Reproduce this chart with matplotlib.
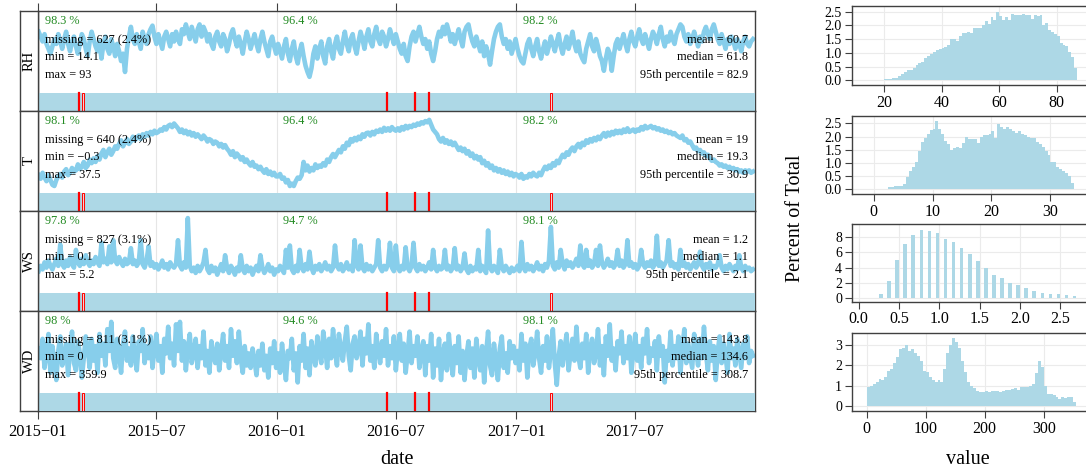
import numpy as np
import pandas as pd
import matplotlib
matplotlib.use("Agg")
import matplotlib.pyplot as plt
import matplotlib.dates as mdates
from matplotlib.patches import Rectangle

plt.rcParams['font.family'] = ['Liberation Serif', 'DejaVu Serif']

# ---------------- data ----------------
variables = ['RH', 'T', 'WS', 'WD']

# 3-day averaged series (2015-01-01 .. 2017-12-31)
rh_values = [
    # 2015
    80, 76, 72, 78, 70, 66, 62, 68, 74, 70,
    78, 72, 66, 74, 80, 70, 64, 72, 76, 68,
    62, 70, 78, 74, 66, 60, 72, 80, 74, 68,
    64, 72, 58, 70, 76, 66, 62, 74, 68, 60,
    70, 64, 56, 62, 47, 66, 76, 84, 74, 70,
    78, 72, 66, 80, 74, 70, 78, 82, 85, 76,
    70, 78, 72, 66, 76, 80, 74, 68, 78, 72,
    80, 74, 70, 82, 78, 86, 80, 74, 84, 78,
    72, 82, 86, 76, 84, 80, 72, 78, 70, 66,
    76, 80, 72, 68, 78, 74, 64, 70, 78, 82,
    74, 68, 76, 70, 62, 72, 80, 74, 66, 72,
    78, 70, 64, 74, 80, 72, 66, 60, 72, 76, 68, 62,
    # 2016
    70, 64, 58, 68, 74, 62, 56, 66, 72, 60,
    54, 64, 70, 60, 52, 47, 43, 50, 62, 68,
    58, 66, 72, 60, 54, 68, 74, 64, 58, 70,
    76, 66, 62, 72, 80, 70, 64, 74, 78, 68,
    62, 72, 80, 74, 66, 76, 82, 72, 68, 78,
    84, 74, 70, 80, 76, 68, 74, 82, 76, 70,
    78, 72, 66, 62, 70, 60, 56, 68, 76, 80,
    72, 78, 84, 76, 70, 74, 66, 72, 62, 56,
    64, 74, 80, 76, 84, 78, 86, 80, 72, 78,
    70, 76, 82, 74, 68, 80, 84, 86, 78, 72,
    68, 76, 70, 64, 72, 60, 68, 62, 53, 64,
    74, 80, 84, 86, 76, 70, 74, 66, 72, 62, 68, 74,
    # 2017
    66, 60, 56, 54, 62, 70, 74, 66, 60, 68,
    74, 64, 58, 66, 72, 62, 68, 76, 70, 64,
    72, 78, 68, 62, 70, 76, 66, 72, 80, 70,
    64, 72, 62, 58, 55, 66, 72, 78, 68, 64,
    74, 68, 60, 56, 48, 58, 66, 62, 48, 60,
    70, 74, 66, 72, 78, 70, 64, 74, 80, 72,
    68, 76, 82, 74, 70, 78, 72, 66, 74, 80,
    76, 70, 78, 84, 74, 68, 76, 72, 80, 74,
    70, 78, 82, 86, 84, 76, 72, 78, 70, 74,
    80, 74, 68, 76, 72, 80, 84, 78, 74, 82,
    86, 80, 74, 70, 78, 72, 66, 74, 70, 76,
    72, 66, 74, 70, 64, 72, 76, 70, 68, 72, 74]

t_values = [
    # 2015
    10, 8.5, 11, 9, 7.5, 10, 8, 6, 5.5, 8, 9.5,
    10.5, 9, 11.5, 12.5, 10, 11, 13, 11.5, 12,
    14.5, 12.5, 13.5, 15.5, 13, 14, 16.5, 15, 17, 15.5,
    18, 16.5, 19, 20.5, 17.5, 19.5, 21, 18.5, 20, 22,
    21, 23, 24.5, 22, 23.5, 25, 23, 24, 26, 24.5, 25.5,
    26.5, 25, 27, 26, 27.5, 26.5, 28, 27, 28.5, 27.5,
    28, 29, 28.5, 30, 29, 30.5, 31, 30, 31.5, 30.5,
    29.5, 28, 29, 27.5, 28.5, 27, 28, 26.5, 27.5, 26, 27,
    26, 25, 26.5, 25.5, 24, 25, 24.5, 23, 24,
    23.5, 22, 23, 21.5, 22.5, 21, 20, 18.5, 20, 17.5, 19,
    18, 16.5, 17.5, 15.5, 16.5, 15, 14, 15.5, 13.5, 14,
    12.5, 13.5, 12, 11, 12.5, 10.5, 11.5, 10, 11, 9.5,
    # 2016
    9.5, 10.5, 8.5, 9, 7, 8, 5.5, 6.5, 5.5, 7.5, 9,
    8.5, 10, 15.5, 12, 14, 11.5, 13, 12, 14.5,
    13, 14, 13.5, 15, 14, 16.5, 15.5, 17.5, 18.8, 17.5,
    19, 20.5, 19.5, 22, 21, 23.5, 22.5, 25, 24, 25.5,
    24.5, 26, 25, 27, 26, 27.5, 27.7, 26.5, 28, 27, 28.5,
    28, 29, 28, 29.7, 28.5, 29.5, 28.5, 30, 29, 28.5,
    29.5, 28.5, 30, 29, 30.5, 29.5, 30.5, 30, 31, 30.5,
    31.5, 31, 32, 31.5, 32.5, 32, 33, 31, 29, 28, 27,
    25, 24, 25.5, 23.5, 24.5, 23, 24, 22.5, 23.5,
    22, 20.5, 21.5, 20, 21, 19, 20, 18, 19, 17, 18,
    16.5, 17.5, 15, 16, 14, 15, 13, 14, 12, 13,
    11.5, 12.5, 11, 12, 10.5, 11.5, 10, 11, 9.5, 10.5,
    # 2017
    10, 9, 10.5, 8.5, 9.5, 9, 10.5, 9.5, 11, 10, 9.5,
    11, 10, 12, 13.5, 12.5, 14, 13, 15, 14,
    16, 15, 17, 18.5, 17.5, 19.5, 18.5, 20.5, 21.5, 20,
    22, 23, 21.5, 23.5, 22.5, 24.5, 23.5, 25, 24, 25.5,
    24.5, 26, 25, 26.5, 27.5, 26, 27.7, 26.5, 28, 27, 28.5,
    27.5, 28.5, 27.5, 29, 28, 29.5, 28, 28.5, 29, 28,
    29, 28.5, 30, 29, 30.5, 29.5, 30, 30.5, 29.5, 30,
    29, 29.5, 28.5, 29, 28, 28.5, 27.5, 28, 27, 27.5, 26.5,
    26, 25.5, 26.5, 24.5, 25, 23.5, 24, 22.5, 21,
    21.5, 20, 20.5, 19, 19.5, 18, 18.5, 17, 16, 16.5, 15.5,
    15, 14, 14.5, 13.5, 14, 13, 13.5, 12.5, 13, 12,
    12.5, 11.5, 12, 11, 12, 11.5, 12, 11, 11.5]

ws_values = [
    # 2015
    1.0, 1.3, 1.1, 1.5, 1.2, 1.6, 1.3, 1.1, 1.4, 1.7,
    1.3, 2.5, 1.4, 1.2, 1.6, 1.3, 1.8, 1.4, 1.2, 2.2,
    1.5, 1.3, 1.7, 1.4, 1.9, 1.5, 1.3, 1.6, 1.4, 1.8,
    1.5, 1.3, 2.6, 1.5, 1.7, 1.4, 2.4, 1.5, 2.75, 1.6,
    1.4, 1.8, 1.5, 1.3, 1.7, 1.4, 1.5, 2.3, 1.4, 1.6,
    1.3, 1.5, 2.75, 1.4, 1.2, 1.6, 2.4, 1.3, 1.5, 1.2,
    1.4, 1.1, 1.3, 1.6, 1.2, 1.4, 1.1, 1.5, 1.3, 1.2,
    1.4, 2.75, 1.3, 1.1, 1.5, 1.2, 4.0, 1.3, 1.0, 1.2,
    0.9, 1.3, 1.0, 1.2, 1.5, 2.2, 1.1, 0.9, 1.3, 1.0,
    1.2, 0.8, 1.1, 1.4, 1.0, 1.9, 1.2, 0.9, 1.3, 1.1,
    0.8, 1.2, 1.0, 1.9, 1.1, 0.9, 1.3, 1.0, 1.2, 0.8,
    1.1, 1.3, 1.0, 1.9, 1.2, 0.9, 1.1, 1.4, 1.0, 1.2, 0.8, 1.1,
    # 2016
    1.0, 1.3, 1.1, 0.9, 2.2, 1.2, 2.45, 1.1, 0.9, 1.3,
    1.0, 2.2, 1.2, 1.0, 1.4, 1.1, 2.1, 1.2, 0.9, 1.3,
    1.1, 1.4, 1.0, 1.2, 1.5, 1.1, 1.3, 1.0, 1.2, 2.45,
    1.3, 1.1, 1.4, 1.0, 1.2, 1.5, 1.1, 1.3, 1.0, 2.75,
    1.3, 1.1, 2.45, 1.2, 1.0, 1.4, 1.1, 1.3, 1.0, 1.2,
    1.4, 2.75, 1.2, 1.0, 1.3, 1.1, 1.4, 2.6, 1.2, 1.0,
    2.45, 1.2, 1.0, 1.3, 1.1, 2.35, 1.2, 1.0, 1.3, 2.6,
    1.2, 1.0, 1.4, 1.1, 1.3, 1.0, 1.2, 1.5, 1.1, 2.2,
    1.2, 1.0, 1.3, 1.1, 1.2, 2.2, 1.1, 1.3, 1.0, 1.2,
    2.3, 1.1, 1.3, 1.0, 1.2, 2.0, 1.1, 0.9, 1.3, 1.0,
    1.2, 1.1, 2.2, 1.0, 1.3, 1.1, 0.9, 3.3, 1.2, 1.0,
    1.3, 1.1, 0.9, 2.2, 1.2, 1.0, 1.3, 1.1, 0.9, 1.2, 1.0, 1.1,
    # 2017
    1.3, 1.0, 2.65, 1.2, 1.0, 1.4, 1.1, 1.3, 1.0, 1.2,
    1.5, 1.1, 1.3, 1.0, 1.4, 1.2, 1.6, 3.5, 1.3, 1.1,
    1.5, 1.2, 2.2, 1.4, 1.1, 1.6, 1.3, 1.5, 1.2, 1.4,
    1.7, 1.3, 2.45, 1.4, 1.2, 2.2, 1.3, 1.6, 1.2, 1.4,
    2.2, 1.3, 2.45, 1.5, 1.2, 1.4, 1.7, 1.3, 1.5, 1.2,
    1.4, 2.2, 1.3, 1.6, 1.2, 1.4, 2.75, 1.3, 1.5, 1.2,
    1.4, 1.1, 1.3, 2.2, 1.4, 1.2, 1.5, 1.3, 1.6, 1.2,
    1.4, 3.0, 1.3, 1.5, 1.2, 1.4, 1.6, 2.75, 1.3, 1.5,
    1.2, 1.4, 1.1, 2.2, 1.3, 1.5, 1.2, 1.4, 1.1, 1.3,
    1.5, 1.2, 1.4, 2.1, 1.3, 1.1, 1.4, 1.2, 1.5, 1.1,
    1.3, 1.2, 1.4, 1.9, 1.2, 1.0, 1.3, 1.1, 1.4, 1.2,
    1.0, 1.3, 1.1, 1.9, 1.2, 1.0, 1.3, 1.1, 1.2, 1.0, 1.1]

wd_values = [
    # 2015
    190, 150, 230, 110, 170, 250, 90, 200, 140, 60,
    180, 240, 120, 160, 210, 80, 190, 260, 130, 100,
    220, 170, 70, 150, 240, 190, 110, 230, 140, 200,
    90, 250, 160, 210, 120, 270, 180, 300, 150, 110,
    230, 170, 90, 210, 260, 140, 190, 120, 240, 160,
    100, 220, 180, 270, 130, 200, 150, 240, 110, 190,
    250, 140, 200, 90, 230, 170, 280, 150, 210, 120,
    290, 180, 300, 140, 220, 100, 190, 250, 130, 170,
    230, 110, 200, 150, 260, 120, 180, 90, 220, 160,
    130, 210, 100, 180, 250, 140, 200, 110, 270, 160,
    220, 130, 260, 150, 90, 200, 120, 170, 110, 190,
    140, 80, 180, 120, 210, 100, 160, 70, 190, 130, 220, 110,
    # 2016
    170, 90, 210, 130, 60, 180, 150, 230, 100, 170,
    50, 200, 140, 250, 110, 190, 80, 220, 160, 120,
    240, 170, 130, 260, 200, 110, 230, 150, 270, 180,
    120, 250, 190, 140, 220, 280, 160, 100, 210, 240,
    150, 190, 260, 120, 230, 170, 290, 140, 200, 110,
    250, 180, 130, 220, 160, 270, 120, 200, 150, 240,
    100, 190, 250, 140, 210, 90, 170, 260, 130, 200,
    160, 240, 110, 180, 220, 80, 200, 140, 250, 70,
    190, 120, 230, 60, 170, 210, 100, 250, 150, 80,
    200, 130, 240, 90, 180, 60, 160, 220, 110, 190,
    70, 230, 150, 100, 200, 50, 170, 260, 120, 80,
    210, 140, 60, 190, 240, 110, 170, 90, 220, 150, 200, 130,
    # 2017
    180, 100, 250, 140, 210, 70, 190, 230, 120, 170,
    260, 150, 90, 200, 140, 240, 110, 180, 270, 130,
    40, 160, 220, 120, 190, 250, 100, 170, 230, 140,
    280, 160, 110, 210, 150, 250, 90, 190, 230, 130,
    170, 270, 120, 200, 80, 240, 160, 290, 140, 190,
    100, 220, 170, 260, 130, 200, 150, 240, 90, 180,
    250, 140, 200, 110, 230, 170, 270, 130, 190, 160,
    220, 100, 240, 160, 200, 50, 180, 140, 260, 120,
    200, 150, 240, 90, 190, 270, 130, 210, 160, 110,
    250, 180, 120, 230, 150, 280, 170, 100, 220, 140,
    200, 60, 180, 240, 130, 210, 160, 90, 250, 150,
    190, 120, 230, 170, 110, 210, 150, 240, 130, 180, 160]

series = [rh_values, t_values, ws_values, wd_values]

# missing-data markers
missing_days = ['2015-03-04', '2016-06-18', '2016-07-30', '2016-08-20']
missing_periods = [('2015-03-09', '2015-03-12'), ('2017-02-22', '2017-02-25')]

# summary statistics shown in the panels
missing_txt = ['627 (2.4%)', '640 (2.4%)', '827 (3.1%)', '811 (3.1%)']
min_txt = ['14.1', '\u22120.3', '0.1', '0']
max_txt = ['93', '37.5', '5.2', '359.9']
mean_txt = ['60.7', '19', '1.2', '143.8']
median_txt = ['61.8', '19.3', '1.1', '134.6']
p95_txt = ['82.9', '30.9', '2.1', '308.7']
year_pct = [['98.3', '96.4', '98.2'],
            ['98.1', '96.4', '98.2'],
            ['97.8', '94.7', '98.1'],
            ['98', '94.6', '98.1']]
years = ['2015-01-01', '2016-01-01', '2017-01-01']

# histogram (percent of total)
rh_hist = [0.01, 0.01, 0.02, 0.02, 0.02, 0.03, 0.04, 0.05, 0.05, 0.07, 0.1, 0.15,
           0.22, 0.3, 0.36, 0.38, 0.45, 0.55, 0.62, 0.68, 0.82, 0.88, 0.95, 1.05,
           1.1, 1.15, 1.17, 1.22, 1.3, 1.5, 1.52, 1.45, 1.6, 1.72, 1.74, 1.78,
           1.72, 1.9, 1.92, 1.9, 2.0, 2.15, 2.05, 2.3, 2.2, 2.5, 2.35, 2.2,
           2.3, 2.2, 2.43, 2.38, 2.4, 2.38, 2.42, 2.38, 2.4, 2.22, 2.38, 2.35,
           2.38, 2.0, 2.1, 1.82, 1.75, 1.68, 1.6, 1.35, 1.3, 1.25, 1.05, 0.85, 0.45]
t_hist = [0.01, 0.01, 0.01, 0.01, 0.02, 0.02, 0.08, 0.1, 0.12, 0.13, 0.13, 0.2,
          0.45, 0.7, 0.85, 1.05, 1.45, 1.8, 1.95, 2.1, 2.25, 2.3, 2.6, 2.3,
          2.1, 1.85, 1.7, 1.5, 1.55, 1.6, 1.55, 1.75, 2.0, 1.9, 1.9, 1.9,
          1.75, 2.0, 2.05, 2.05, 2.1, 2.2, 1.95, 2.48, 2.38, 2.3, 2.38, 2.3,
          2.22, 2.15, 2.2, 2.1, 2.05, 2.0, 1.95, 1.95, 1.8, 1.7, 1.6, 1.45,
          1.3, 1.05, 1.05, 0.85, 0.75, 0.7, 0.62, 0.5, 0.25]
ws_levels = [0.3, 0.4, 0.5, 0.6, 0.7, 0.8, 0.9, 1.0, 1.1, 1.2, 1.3, 1.4, 1.5,
             1.6, 1.7, 1.8, 1.9, 2.0, 2.1, 2.2, 2.3, 2.4, 2.5, 2.6, 2.7]
ws_hist = [0.5, 2.3, 5.0, 7.1, 8.2, 8.9, 8.7, 8.5, 7.7, 7.25, 6.5, 5.7, 4.9,
           3.9, 3.0, 2.7, 2.0, 1.7, 1.3, 1.0, 0.75, 0.6, 0.55, 0.45, 0.3]
wd_hist = [0.95, 1.0, 1.1, 1.2, 1.3, 1.25, 1.4, 1.7, 1.8, 2.1, 2.4, 2.8,
           2.85, 3.0, 2.7, 2.8, 2.6, 2.45, 2.2, 1.7, 1.65, 1.4, 1.25, 1.2,
           1.25, 1.2, 1.8, 2.6, 3.0, 3.35, 3.15, 2.85, 2.2, 1.65, 1.2, 1.0,
           0.9, 0.75, 0.7, 0.7, 0.72, 0.7, 0.72, 0.72, 0.72, 0.7, 0.75, 0.8,
           0.8, 0.85, 0.9, 0.8, 0.95, 0.95, 0.95, 1.0, 1.1, 1.6, 2.2, 1.9,
           1.0, 0.6, 0.6, 0.55, 0.45, 0.35, 0.45, 0.4, 0.45, 0.45, 0.2]

# ---------------- layout ----------------
W, H = 1086, 472
fig = plt.figure(figsize=(W / 100, H / 100), dpi=100)


def rect(l, t, r, b):
    return [l / W, 1 - b / H, (r - l) / W, (b - t) / H]


line_col = '#87CEEB'
bar_col = '#ADD8E6'
spine_col = '#404040'
green = '#228B22'
grid_col = '#E6E6E6'

ylims = [(15, 97), (-4.9, 36.7), (-1.25, 4.4), (-68, 345)]
x0, x1 = pd.Timestamp('2015-01-01'), pd.Timestamp('2018-01-01')
tick_dates = pd.date_range('2015-01-01', '2017-07-01', freq='6MS')

txt_fs = 8.8
bar_frac = 0.18

for k, name in enumerate(variables):
    top = 11 + 100 * k
    ax = fig.add_axes(rect(38, top, 755, top + 100))
    ax.set_xlim(x0, x1)
    ax.set_ylim(*ylims[k])
    for td in tick_dates:
        ax.axvline(td, color=grid_col, lw=0.8, zorder=0)
    dates = pd.date_range('2015-01-01', periods=len(series[k]), freq='3D') + pd.Timedelta(days=1)
    ax.plot(dates, series[k], color=line_col, lw=3.3, solid_joinstyle='round', zorder=2)
    tr = ax.get_xaxis_transform()
    ax.add_patch(Rectangle((mdates.date2num(x0), 0), mdates.date2num(x1) - mdates.date2num(x0),
                           bar_frac, transform=tr, facecolor=bar_col, edgecolor='none', zorder=3))
    for d in missing_days:
        ax.plot([pd.Timestamp(d)] * 2, [0, bar_frac], transform=tr, color='red', lw=1.6, zorder=4)
    for s, e in missing_periods:
        xs = mdates.date2num(pd.Timestamp(s))
        xe = mdates.date2num(pd.Timestamp(e))
        ax.add_patch(Rectangle((xs, 0), xe - xs, bar_frac, transform=tr, facecolor='#F2D0D4',
                               edgecolor='red', lw=0.7, zorder=4))
    for spine in ax.spines.values():
        spine.set_color(spine_col)
        spine.set_linewidth(1.0)
    ax.set_yticks([])
    ax.set_xticks(tick_dates)
    ax.xaxis.set_major_formatter(mdates.DateFormatter('%Y\u2212%m'))
    if k == 0:
        ax.tick_params(axis='x', top=True, bottom=False, labelbottom=False, labeltop=False,
                       direction='out', length=6, color=spine_col)
    elif k == 3:
        ax.tick_params(axis='x', top=False, bottom=True, labelbottom=True, direction='out',
                       length=6, color=spine_col, labelsize=11.8, pad=3)
    else:
        ax.tick_params(axis='x', top=False, bottom=False, labelbottom=False)

    for j, yr in enumerate(years):
        ax.text(pd.Timestamp(yr) + pd.Timedelta(days=10), 0.90, year_pct[k][j] + ' %',
                transform=tr, color=green, fontsize=txt_fs, va='center', ha='left', zorder=5)
    lx = 0.0098
    ax.text(lx, 0.71, 'missing = ' + missing_txt[k], transform=ax.transAxes, fontsize=txt_fs,
            va='center', ha='left', zorder=5)
    ax.text(lx, 0.54, 'min = ' + min_txt[k], transform=ax.transAxes, fontsize=txt_fs,
            va='center', ha='left', zorder=5)
    ax.text(lx, 0.36, 'max = ' + max_txt[k], transform=ax.transAxes, fontsize=txt_fs,
            va='center', ha='left', zorder=5)
    rx = 0.9906
    ax.text(rx, 0.71, 'mean = ' + mean_txt[k], transform=ax.transAxes, fontsize=txt_fs,
            va='center', ha='right', zorder=5)
    ax.text(rx, 0.54, 'median = ' + median_txt[k], transform=ax.transAxes, fontsize=txt_fs,
            va='center', ha='right', zorder=5)
    ax.text(rx, 0.36, '95th percentile = ' + p95_txt[k], transform=ax.transAxes, fontsize=txt_fs,
            va='center', ha='right', zorder=5)

    sax = fig.add_axes(rect(20, top, 38, top + 100))
    sax.set_xticks([])
    sax.set_yticks([])
    for spine in sax.spines.values():
        spine.set_color(spine_col)
        spine.set_linewidth(1.0)
    sax.text(0.5, 0.5, name, rotation=90, ha='center', va='center', fontsize=10.5,
             transform=sax.transAxes)

fig.text(397 / W, 1 - 460 / H, 'date', fontsize=14.5, ha='center', va='center')

# ---------------- histograms ----------------
hist_boxes = [(6, 85), (116, 194), (224, 301.7), (332.7, 411)]
hist_xlims = [(8.85, 91.5), (-3.7, 36.7), (-0.088, 2.866), (-25.5, 378.4)]
hist_ylims = [(-0.17, 2.71), (-0.18, 2.78), (-0.44, 9.65), (-0.25, 3.6)]
hist_xticks = [[20, 40, 60, 80], [0, 10, 20, 30], [0.0, 0.5, 1.0, 1.5, 2.0, 2.5], [0, 100, 200, 300]]
hist_yticks = [[0, 0.5, 1.0, 1.5, 2.0, 2.5], [0, 0.5, 1.0, 1.5, 2.0, 2.5], [0, 2, 4, 6, 8], [0, 1, 2, 3]]
xfmt = ['{:.0f}', '{:.0f}', '{:.1f}', '{:.0f}']
yfmt = ['{:.1f}', '{:.1f}', '{:.0f}', '{:.0f}']

for k in range(4):
    t, b = hist_boxes[k]
    hx = fig.add_axes(rect(851.7, t, 1090, b))
    hx.set_axisbelow(True)
    hx.grid(True, color='#EBEBEB', lw=0.8)
    if k == 0:
        edges = 14 + np.arange(len(rh_hist)) * 1.0
        hx.bar(edges, rh_hist, width=1.0, align='edge', color=bar_col, lw=0)
    elif k == 1:
        edges = -0.5 + np.arange(len(t_hist)) * 0.5
        hx.bar(edges, t_hist, width=0.5, align='edge', color=bar_col, lw=0)
    elif k == 2:
        hx.bar(np.array(ws_levels) - 0.025, ws_hist, width=0.045, align='center', color=bar_col, lw=0)
    else:
        edges = np.arange(len(wd_hist)) * 5.0
        hx.bar(edges, wd_hist, width=5.0, align='edge', color=bar_col, lw=0)
    hx.set_xlim(*hist_xlims[k])
    hx.set_ylim(*hist_ylims[k])
    hx.set_xticks(hist_xticks[k])
    hx.set_xticklabels([xfmt[k].format(v) for v in hist_xticks[k]])
    hx.set_yticks(hist_yticks[k])
    hx.set_yticklabels([yfmt[k].format(v) for v in hist_yticks[k]])
    hx.tick_params(axis='x', direction='out', length=5, color=spine_col, labelsize=11.5, pad=2)
    hx.tick_params(axis='y', direction='out', length=5, color=spine_col, labelsize=10, pad=2)
    for sname, spine in hx.spines.items():
        spine.set_color(spine_col)
        spine.set_linewidth(1.0)
    hx.spines['right'].set_visible(False)

fig.text(795 / W, 1 - 218 / H, 'Percent of Total', fontsize=14.5, rotation=90,
         ha='center', va='center')
fig.text(968 / W, 1 - 460 / H, 'value', fontsize=14.5, ha='center', va='center')

fig.savefig('out.png', dpi=100)
